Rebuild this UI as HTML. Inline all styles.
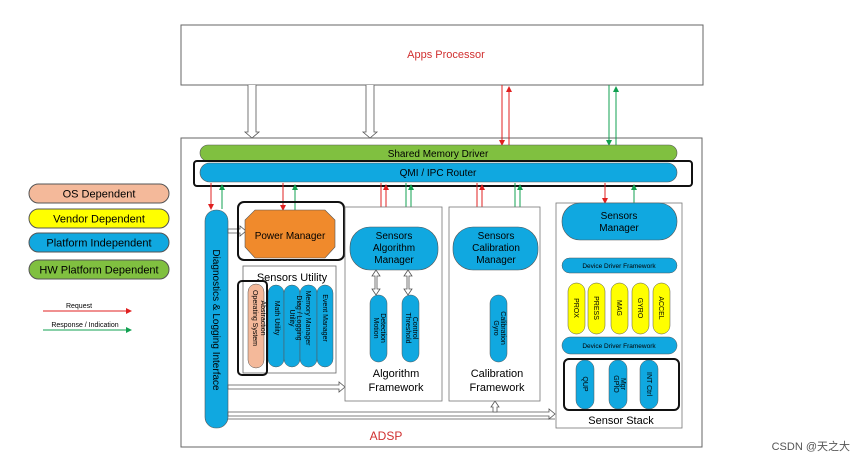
<!DOCTYPE html>
<html><head><meta charset="utf-8"><style>
html,body{margin:0;padding:0;background:#fff;}
svg{display:block;font-family:"Liberation Sans",sans-serif;}
</style></head><body>
<svg width="866" height="463" viewBox="0 0 866 463" xmlns="http://www.w3.org/2000/svg">
<defs>
<marker id="ar" markerWidth="6" markerHeight="6" refX="5" refY="3" orient="auto"><path d="M0,0 L6,3 L0,6z" fill="#e02020"/></marker>
<marker id="ag" markerWidth="6" markerHeight="6" refX="5" refY="3" orient="auto"><path d="M0,0 L6,3 L0,6z" fill="#10a050"/></marker>
</defs>
<rect width="866" height="463" fill="#fff"/>
<g font-size="11" text-anchor="middle">
<rect x="29" y="184" width="140" height="19" rx="9.5" fill="#f4b99a" stroke="#555"/><text x="99" y="197.5">OS Dependent</text>
<rect x="29" y="209" width="140" height="19" rx="9.5" fill="#ffff00" stroke="#555"/><text x="99" y="222.5">Vendor Dependent</text>
<rect x="29" y="233" width="140" height="19" rx="9.5" fill="#10a8e0" stroke="#555"/><text x="99" y="246.5">Platform Independent</text>
<rect x="29" y="260" width="140" height="19" rx="9.5" fill="#80c040" stroke="#555"/><text x="99" y="273.5">HW Platform Dependent</text>
</g>
<text x="79" y="308" font-size="7" text-anchor="middle">Request</text>
<line x1="43" y1="311" x2="131" y2="311" stroke="#e02020" stroke-width="1" marker-end="url(#ar)"/>
<text x="85" y="327" font-size="7" text-anchor="middle">Response / Indication</text>
<line x1="43" y1="330" x2="131" y2="330" stroke="#10a050" stroke-width="1" marker-end="url(#ag)"/>
<rect x="181" y="25" width="522" height="60" fill="#fff" stroke="#666"/>
<text x="446" y="58" font-size="11" fill="#d03030" text-anchor="middle">Apps Processor</text>
<rect x="181" y="138" width="521" height="309" fill="#fff" stroke="#666"/>
<text x="386" y="440" font-size="12" fill="#d03030" text-anchor="middle">ADSP</text>
<g fill="#fff" stroke="#555" stroke-width="0.8">
<path d="M248,85 V132 H245 L252,138 L259,132 H256 V85"/>
<path d="M366,85 V132 H363 L370,138 L377,132 H374 V85"/>
</g>
<line x1="502" y1="85" x2="502" y2="145" stroke="#e02020" marker-end="url(#ar)"/>
<line x1="509" y1="145" x2="509" y2="87" stroke="#e02020" marker-end="url(#ar)"/>
<line x1="609" y1="85" x2="609" y2="145" stroke="#10a050" marker-end="url(#ag)"/>
<line x1="616" y1="145" x2="616" y2="87" stroke="#10a050" marker-end="url(#ag)"/>
<rect x="200" y="145" width="477" height="16" rx="8" fill="#80c040" stroke="#555" stroke-width="0.6"/>
<text x="438" y="157" font-size="10" text-anchor="middle">Shared Memory Driver</text>
<rect x="194" y="161" width="498" height="25" rx="3" fill="none" stroke="#111" stroke-width="2"/>
<rect x="200" y="163" width="477" height="19" rx="9.5" fill="#10a8e0" stroke="#555" stroke-width="0.6"/>
<text x="438" y="176" font-size="10" text-anchor="middle">QMI / IPC Router</text>
<g stroke-width="1">
<line x1="211" y1="183" x2="211" y2="209" stroke="#e02020" marker-end="url(#ar)"/>
<line x1="222" y1="209" x2="222" y2="185" stroke="#10a050" marker-end="url(#ag)"/>
<line x1="283" y1="183" x2="283" y2="210" stroke="#e02020" marker-end="url(#ar)"/>
<line x1="295" y1="210" x2="295" y2="185" stroke="#10a050" marker-end="url(#ag)"/>
<line x1="381" y1="183" x2="381" y2="226" stroke="#e02020" marker-end="url(#ar)"/>
<line x1="386" y1="226" x2="386" y2="185" stroke="#e02020" marker-end="url(#ar)"/>
<line x1="406" y1="183" x2="406" y2="226" stroke="#10a050" marker-end="url(#ag)"/>
<line x1="411" y1="226" x2="411" y2="185" stroke="#10a050" marker-end="url(#ag)"/>
<line x1="477" y1="183" x2="477" y2="226" stroke="#e02020" marker-end="url(#ar)"/>
<line x1="482" y1="226" x2="482" y2="185" stroke="#e02020" marker-end="url(#ar)"/>
<line x1="515" y1="183" x2="515" y2="226" stroke="#10a050" marker-end="url(#ag)"/>
<line x1="520" y1="226" x2="520" y2="185" stroke="#10a050" marker-end="url(#ag)"/>
<line x1="605" y1="183" x2="605" y2="203" stroke="#e02020" marker-end="url(#ar)"/>
<line x1="634" y1="203" x2="634" y2="185" stroke="#10a050" marker-end="url(#ag)"/>
</g>
<rect x="205" y="210" width="23" height="218" rx="11" fill="#10a8e0" stroke="#555" stroke-width="0.6"/>
<text transform="translate(213,320) rotate(90)" font-size="10" text-anchor="middle">Diagnostics &amp; Logging Interface</text>
<g fill="#fff" stroke="#555" stroke-width="0.8">
<path d="M228,229 H240 V226 L246,231 L240,236 V233 H228z"/>
<path d="M228,385 H339 V382 L345,387 L339,392 V389 H228z"/>
<path d="M228,412 H549 V409 L555,414 L549,419 V416 H228z"/>
<path d="M493,412 V407 H491 L495,401 L499,407 H497 V412z"/>
</g>
<line x1="228" y1="419" x2="555" y2="419" stroke="#555" stroke-width="0.8"/>
<rect x="238" y="202" width="106" height="58" rx="6" fill="none" stroke="#111" stroke-width="2"/>
<polygon points="255,210 325,210 335,220 335,247 325,258 255,258 245,247 245,220" fill="#f08a2c" stroke="#555" stroke-width="0.6"/>
<text x="290" y="239" font-size="10" text-anchor="middle">Power Manager</text>
<rect x="243" y="266" width="93" height="107" fill="#fff" stroke="#666" stroke-width="0.8"/>
<text x="292" y="281" font-size="11" text-anchor="middle">Sensors Utility</text>
<g font-size="7" text-anchor="middle">
<rect x="268" y="285" width="16" height="82" rx="8" fill="#10a8e0" stroke="#555" stroke-width="0.5"/>
<rect x="284" y="285" width="16" height="82" rx="8" fill="#10a8e0" stroke="#555" stroke-width="0.5"/>
<rect x="300" y="285" width="17" height="82" rx="8" fill="#10a8e0" stroke="#555" stroke-width="0.5"/>
<rect x="317" y="285" width="16" height="82" rx="8" fill="#10a8e0" stroke="#555" stroke-width="0.5"/>
<rect x="248" y="284" width="16" height="84" rx="8" fill="#f4b99a" stroke="#555" stroke-width="0.5"/>
<text transform="translate(253,318) rotate(90)">Operating System</text>
<text transform="translate(261,318) rotate(90)">Abstraction</text>
<text transform="translate(275,318) rotate(90)">Math Utility</text>
<text transform="translate(290,318) rotate(90)">Utility</text>
<text transform="translate(297,318) rotate(90)">Diag / Logging</text>
<text transform="translate(306,318) rotate(90)">Memory Manager</text>
<text transform="translate(323,318) rotate(90)">Event Manager</text>
</g>
<rect x="238" y="281" width="29" height="94" rx="4" fill="none" stroke="#111" stroke-width="2"/>
<rect x="345" y="207" width="97" height="194" fill="#fff" stroke="#777" stroke-width="0.8"/>
<rect x="350" y="227" width="88" height="43" rx="20" fill="#10a8e0" stroke="#555" stroke-width="0.6"/>
<g font-size="10" text-anchor="middle"><text x="394" y="239">Sensors</text><text x="394" y="251">Algorithm</text><text x="394" y="263">Manager</text></g>
<g fill="#fff" stroke="#555" stroke-width="0.8">
<path d="M376,270 L372,276 H375 V289 H372 L376,295 L380,289 H377 V276 H380z"/>
<path d="M408,270 L404,276 H407 V289 H404 L408,295 L412,289 H409 V276 H412z"/>
<path d="M495,270 L491,276 H494 V289 H491 L495,295 L499,289 H496 V276 H499z"/>
<path d="M619,240 L615,245 H618 V253 H615 L619,258 L623,253 H620 V245 H623z"/>
</g>
<rect x="370" y="295" width="17" height="67" rx="8.5" fill="#10a8e0" stroke="#555" stroke-width="0.5"/>
<rect x="402" y="295" width="17" height="67" rx="8.5" fill="#10a8e0" stroke="#555" stroke-width="0.5"/>
<g font-size="11" text-anchor="middle"><text x="396" y="377">Algorithm</text><text x="396" y="391">Framework</text></g>
<rect x="449" y="207" width="91" height="194" fill="#fff" stroke="#777" stroke-width="0.8"/>
<rect x="453" y="227" width="85" height="43" rx="20" fill="#10a8e0" stroke="#555" stroke-width="0.6"/>
<g font-size="10" text-anchor="middle"><text x="496" y="239">Sensors</text><text x="496" y="251">Calibration</text><text x="496" y="263">Manager</text></g>
<rect x="490" y="295" width="17" height="67" rx="8.5" fill="#10a8e0" stroke="#555" stroke-width="0.5"/>
<g font-size="11" text-anchor="middle"><text x="497" y="377">Calibration</text><text x="497" y="391">Framework</text></g>
<g font-size="7" text-anchor="middle">
<text transform="translate(374,328) rotate(90)">Motion</text><text transform="translate(381,328) rotate(90)">Detection</text>
<text transform="translate(406,328) rotate(90)">Threshold</text><text transform="translate(413,328) rotate(90)">Control</text>
<text transform="translate(494,328) rotate(90)">Gyro</text><text transform="translate(501,328) rotate(90)">Calibration</text>
</g>
<rect x="556" y="203" width="126" height="225" fill="#fff" stroke="#777" stroke-width="0.8"/>
<rect x="562" y="203" width="115" height="37" rx="18" fill="#10a8e0" stroke="#555" stroke-width="0.6"/>
<g font-size="10" text-anchor="middle"><text x="619" y="219">Sensors</text><text x="619" y="231">Manager</text></g>
<rect x="562" y="258" width="115" height="15" rx="7.5" fill="#10a8e0" stroke="#555" stroke-width="0.5"/>
<text x="619" y="268" font-size="6.5" text-anchor="middle">Device Driver Framework</text>
<g fill="#ffff00" stroke="#555" stroke-width="0.5">
<rect x="568" y="283" width="17" height="51" rx="8.5"/><rect x="588" y="283" width="17" height="51" rx="8.5"/>
<rect x="611" y="283" width="17" height="51" rx="8.5"/><rect x="632" y="283" width="17" height="51" rx="8.5"/>
<rect x="653" y="283" width="17" height="51" rx="8.5"/>
</g>
<g font-size="7" text-anchor="middle">
<text transform="translate(574,308) rotate(90)">PROX</text>
<text transform="translate(594,308) rotate(90)">PRESS</text>
<text transform="translate(617,308) rotate(90)">MAG</text>
<text transform="translate(638,308) rotate(90)">GYRO</text>
<text transform="translate(659,308) rotate(90)">ACCEL</text>
</g>
<rect x="562" y="337" width="115" height="17" rx="8.5" fill="#10a8e0" stroke="#555" stroke-width="0.5"/>
<text x="619" y="348" font-size="6.5" text-anchor="middle">Device Driver Framework</text>
<g fill="#10a8e0" stroke="#555" stroke-width="0.5">
<rect x="576" y="360" width="18" height="49" rx="9"/><rect x="609" y="360" width="18" height="49" rx="9"/><rect x="640" y="360" width="18" height="49" rx="9"/>
</g>
<g font-size="7" text-anchor="middle">
<text transform="translate(583,384) rotate(90)">QUP</text>
<text transform="translate(614,384) rotate(90)">GPIO</text><text transform="translate(621,384) rotate(90)">Mgr</text>
<text transform="translate(647,384) rotate(90)">INT Ctrl</text>
</g>
<rect x="564" y="359" width="115" height="51" rx="5" fill="none" stroke="#111" stroke-width="2"/>
<text x="621" y="424" font-size="11" text-anchor="middle">Sensor Stack</text>
<text x="850" y="450" font-size="11" fill="#555" text-anchor="end" font-family="Liberation Sans, Noto Sans CJK SC, sans-serif">CSDN @天之大</text>
</svg>
</body></html>
